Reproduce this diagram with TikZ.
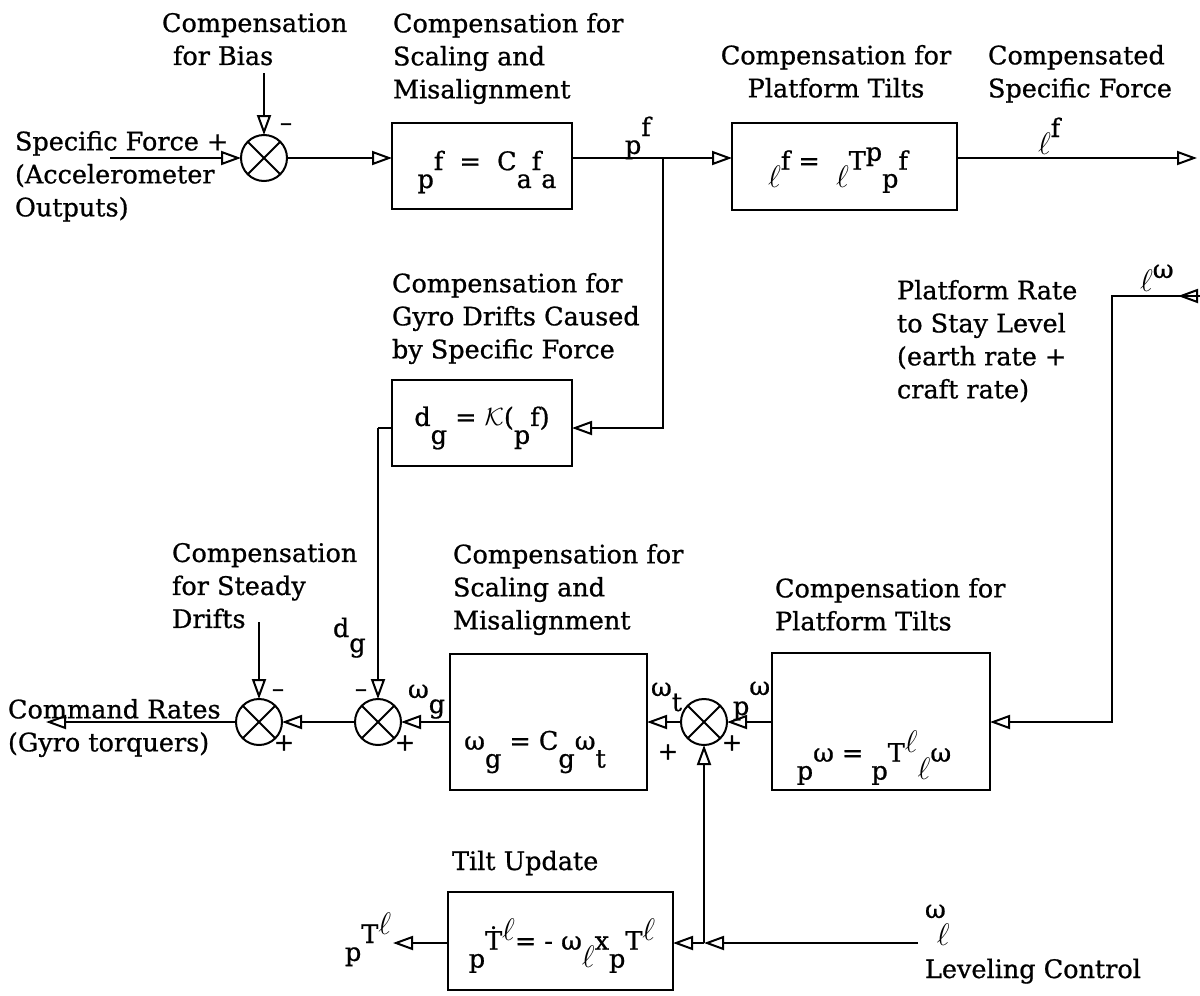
\documentclass[tikz,border=0pt]{standalone}
\usepackage{fontspec}
\setmainfont{DejaVu Serif}[FakeBold=0.8]
\usetikzlibrary{arrows.meta}
\newcommand\lo[1]{\raisebox{-0.7em}{#1}}
\newcommand\hi[1]{\raisebox{0.35em}{#1}}
\newcommand\el{\scalebox{1.25}{$\ell$}}
\begin{document}
\begin{tikzpicture}[x=1pt,y=-1pt,line width=2pt,
  every node/.style={font=\fontsize{25.5}{33}\selectfont, inner sep=0pt, outer sep=0pt},
  blk/.style={draw, rectangle},
  sumj/.style={draw, circle, minimum size=46pt,
    path picture={\draw[line width=2pt]
      (path picture bounding box.north west) -- (path picture bounding box.south east)
      (path picture bounding box.north east) -- (path picture bounding box.south west);}},
  arr/.style={-{Triangle[open,length=20pt,width=14pt]}},
  lbl/.style={align=left, anchor=north west},
  sub/.style={anchor=base west},
  sgn/.style={font=\fontsize{24}{28}\selectfont}]
\useasboundingbox (0,0) rectangle (1200,996);

% ---------- top row ----------
\node[lbl] (lbias) at (162,13) {Compensation\\\hspace*{11pt}for Bias};
\node[lbl] (lscal) at (393,13) {Compensation for\\Scaling and\\Misalignment};
\node[align=center, anchor=north] (ltilt) at (836,45) {Compensation for\\Platform Tilts};
\node[lbl] (lcomp) at (988,45) {Compensated\\Specific Force};
\node[lbl] (lin) at (15,131) {Specific Force +\\(Accelerometer\\Outputs)};

\node[sumj] (s1) at (264,158) {};
\node[sgn] (m1) at (286,127) {–};
\node[blk, minimum width=180pt, minimum height=86pt] (b1) at (482,166) {};
\node (f1) at (487,172) {\lo{p}f\ \ =\ \ C\lo{a}f\lo{a}};
\node[blk, minimum width=225pt, minimum height=87pt] (b2) at (844.5,166.5) {};
\node (f2) at (838,170) {\lo{\el}f\ =\ \ \lo{\el}T\hi{p}\lo{p}f};

\coordinate (in1) at (110,158);
\coordinate (bias) at (264,73);
\coordinate (br) at (663,158);
\coordinate (out) at (1197,158);

\draw[arr] (in1) -- (s1.west);
\draw[arr] (bias) -- (s1.north);
\draw[arr] (s1.east) -- (s1.east -| b1.west);
\draw (b1.east |- s1) -- (br);
\draw[arr] (br) -- (br -| b2.west);
\draw[arr] (b2.east |- s1) -- (out);
\node[sub] (pf) at (625,136) {\lo{p}f};
\node[sub] (lf) at (1038,137) {\lo{\el}f};

% ---------- gyro drift compensation ----------
\node[lbl] (lgyro) at (392,273) {Compensation for\\Gyro Drifts Caused\\by Specific Force};
\node[lbl] (lrate) at (897,280) {Platform Rate\\to Stay Level\\(earth rate +\\craft rate)};
\node[blk, minimum width=180pt, minimum height=86pt] (gb) at (482,423) {};
\node (fg) at (482,428) {d\lo{g} = $\mathcal{K}$(\lo{p}f)};
\coordinate (gc) at (663,428);
\coordinate (gl) at (378,428);
\draw[arr] (br) -- (gc) -- (gc -| gb.east);
\draw (gl -| gb.west) -- (gl);

% ---------- lower row ----------
\node[lbl] (lsteady) at (172,543) {Compensation\\for Steady\\Drifts};
\node[lbl] (lscal2) at (453,544) {Compensation for\\Scaling and\\Misalignment};
\node[lbl] (ltilt2) at (775,578) {Compensation for\\Platform Tilts};
\node[lbl] (lcmd) at (8,699) {Command Rates\\(Gyro torquers)};

\node[sumj] (s2) at (259,722) {};
\node[sumj] (s3) at (378,722) {};
\node[sumj] (s4) at (704,722) {};
\node[sgn] (m2) at (278,693) {–};
\node[sgn] (p2) at (284,743) {+};
\node[sgn] (m3) at (361,693) {–};
\node[sgn] (p3) at (405,743) {+};
\node[sgn] (p4a) at (668,752) {+};
\node[sgn] (p4b) at (732,743) {+};

\node[blk, minimum width=197pt, minimum height=136pt] (b3) at (548.5,722) {};
\node (f3) at (535,752) {ω\lo{g} = C\lo{g}ω\lo{t}};
\node[blk, minimum width=218pt, minimum height=137pt] (b4) at (881,721.5) {};
\node (f4) at (874,758) {\lo{p}ω = \lo{p}T\hi{\el}\lo{\el}ω};

\coordinate (cmd) at (46,722);
\coordinate (drift) at (259,622);
\draw[arr] (gl) -- (s3.north);
\draw[arr] (drift) -- (s2.north);
\draw[arr] (s2.west) -- (cmd);
\draw[arr] (s3.west) -- (s2.east);
\draw[arr] (b3.west) -- (s3.east);
\draw[arr] (s4.west) -- (b3.east |- s4);
\draw[arr] (b4.west |- s4) -- (s4.east);

\node[sub] (dg) at (333,637) {d\raisebox{-15pt}{g}};
\node[sub] (wg) at (408,698) {ω\raisebox{-15pt}{g}};
\node[sub] (wt) at (651,696) {ω\raisebox{-15pt}{t}};
\node[sub] (pw) at (733,695) {\raisebox{-20pt}{p}ω};

\coordinate (rc1) at (1112,722);
\coordinate (rc2) at (1112,296);
\coordinate (rin) at (1200,296);
\draw[arr] (rin) -- (rc2) -- (rc1) -- (b4.east |- rc1);
\draw[arr] (rin) -- (1178,296);
\node[sub] (lw) at (1140,278) {\raisebox{-13pt}{\el}ω};

% ---------- tilt update ----------
\node[anchor=base west] (ltu) at (452,870) {Tilt Update};
\node[blk, minimum width=225pt, minimum height=98pt] (tb) at (560.5,941) {};
\node (ft) at (562,946) {\lo{p}\.{T}\hi{\el}= - ω\lo{\el}x\lo{p}T\hi{\el}};
\coordinate (jn) at (704,943);
\coordinate (lev) at (918,943);
\coordinate (tout) at (393,943);
\draw[arr] (lev) -- (jn);
\draw[arr] (jn) -- (tb.east |- jn);
\draw[arr] (jn) -- (s4.south);
\draw[arr] (tb.west |- jn) -- (tout);
\node[sub] (pt) at (345,943) {\lo{p}T\hi{\el}};
\node[sub] (wl) at (925,918) {ω\hspace*{-9pt}\raisebox{-27pt}{\el}};
\node[sub] (llev) at (925,978) {Leveling Control};
\end{tikzpicture}
\end{document}
